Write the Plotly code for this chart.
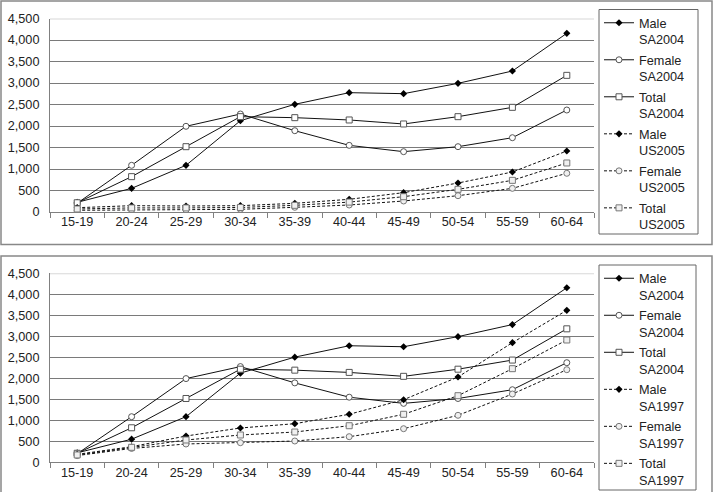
import plotly.graph_objects as go

ages = ["15-19", "20-24", "25-29", "30-34", "35-39", "40-44", "45-49", "50-54", "55-59", "60-64"]
male_sa2004 = [225, 550, 1086, 2123, 2504, 2775, 2752, 2992, 3279, 4155]
female_sa2004 = [205, 1086, 1993, 2279, 1891, 1550, 1403, 1519, 1728, 2372]
total_sa2004 = [215, 822, 1519, 2217, 2194, 2140, 2047, 2217, 2434, 3178]
male_us2005 = [100, 147, 140, 147, 202, 295, 450, 674, 930, 1419]
female_us2005 = [40, 47, 50, 62, 109, 163, 256, 379, 550, 900]
total_us2005 = [70, 95, 95, 105, 155, 230, 356, 527, 736, 1140]
male_sa1997 = [190, 371, 626, 817, 919, 1143, 1490, 2031, 2848, 3619]
female_sa1997 = [160, 330, 436, 467, 507, 610, 800, 1119, 1626, 2205]
total_sa1997 = [175, 357, 531, 650, 721, 871, 1143, 1586, 2229, 2912]
y_ticks = [0, 500, 1000, 1500, 2000, 2500, 3000, 3500, 4000, 4500]
y_ticklabels = ["0", "500", "1,000", "1,500", "2,000", "2,500", "3,000", "3,500", "4,000", "4,500"]

W, H = 717, 492
FONT = "Liberation Sans, Arial, sans-serif"
FS = 12.7
TXT = "#222222"

def px_x(p):
    return p / W

def px_y(p):
    return 1 - p / H

fig = go.Figure()

def style(kind, dashed):
    line = dict(color="#111111", width=1, dash="3px,2px" if dashed else "solid")
    edge = "#777777" if dashed else "#555555"
    fill = "#f0f0f0" if dashed else "#ffffff"
    if kind == "male":
        marker = dict(symbol="diamond", size=5.5, color="#000000", line=dict(width=0))
    elif kind == "female":
        marker = dict(symbol="circle", size=6, color=fill, line=dict(color=edge, width=1))
    else:
        marker = dict(symbol="square", size=6, color=fill, line=dict(color=edge, width=1))
    return line, marker

panels = [
    ("x", "y", "legend", [
        ("Male<br>SA2004", male_sa2004, "male", False),
        ("Female<br>SA2004", female_sa2004, "female", False),
        ("Total<br>SA2004", total_sa2004, "total", False),
        ("Male<br>US2005", male_us2005, "male", True),
        ("Female<br>US2005", female_us2005, "female", True),
        ("Total<br>US2005", total_us2005, "total", True),
    ]),
    ("x2", "y2", "legend2", [
        ("Male<br>SA2004", male_sa2004, "male", False),
        ("Female<br>SA2004", female_sa2004, "female", False),
        ("Total<br>SA2004", total_sa2004, "total", False),
        ("Male<br>SA1997", male_sa1997, "male", True),
        ("Female<br>SA1997", female_sa1997, "female", True),
        ("Total<br>SA1997", total_sa1997, "total", True),
    ]),
]

for xa, ya, lg, series in panels:
    for i, (name, vals, kind, dashed) in enumerate(series):
        line, marker = style(kind, dashed)
        fig.add_trace(go.Scatter(
            x=ages, y=vals, name=name, mode="lines+markers",
            line=line, marker=marker, xaxis=xa, yaxis=ya,
            legend=lg, legendgroup=lg + str(i),
        ))

axis_common_x = dict(
    type="category", categoryorder="array", categoryarray=ages,
    range=[-0.5, 9.5], showgrid=False, showline=True, linecolor="#808080", linewidth=1,
    ticks="outside", tickson="boundaries", ticklen=5, tickcolor="#808080",
    tickfont=dict(family=FONT, size=FS, color=TXT), zeroline=False, fixedrange=True,
    automargin=False, ticklabelstandoff=-2,
)
axis_common_y = dict(
    range=[0, 4500], tickvals=y_ticks, ticktext=y_ticklabels,
    showgrid=True, gridcolor="#7a7a7a", gridwidth=1, showline=True, linecolor="#808080",
    linewidth=1, ticks="", zeroline=False,
    tickfont=dict(family=FONT, size=FS, color=TXT), fixedrange=True,
    automargin=False, ticklabelstandoff=7,
)

x0, x1 = px_x(50), px_x(594)
leg_common = dict(xanchor="left", yanchor="top", valign="top",
                  borderwidth=0, bgcolor="rgba(0,0,0,0)",
                  font=dict(family=FONT, size=FS, color=TXT), tracegroupgap=1,
                  itemwidth=30)
fig.update_layout(
    width=W, height=H, margin=dict(l=0, r=0, t=0, b=0, autoexpand=False),
    paper_bgcolor="white", plot_bgcolor="white",
    xaxis=dict(axis_common_x, domain=[x0, x1], anchor="y"),
    yaxis=dict(axis_common_y, domain=[px_y(212), px_y(18.5)], anchor="x"),
    xaxis2=dict(axis_common_x, domain=[x0, x1], anchor="y2"),
    yaxis2=dict(axis_common_y, domain=[px_y(462.3), px_y(273.3)], anchor="x2"),
    legend=dict(leg_common, x=px_x(599), y=px_y(8)),
    legend2=dict(leg_common, x=px_x(599), y=px_y(263.5)),
    showlegend=True,
    font=dict(family=FONT, size=FS, color=TXT),
)

shapes = [
    dict(type="rect", xref="paper", yref="paper", x0=px_x(1), x1=px_x(712), y0=px_y(244.5), y1=px_y(1),
         line=dict(color="#888888", width=1.5), layer="below"),
    dict(type="rect", xref="paper", yref="paper", x0=px_x(1), x1=px_x(712), y0=px_y(494), y1=px_y(256),
         line=dict(color="#888888", width=1.5), layer="below"),
    dict(type="rect", xref="paper", yref="paper", x0=px_x(599), x1=px_x(698), y0=px_y(234), y1=px_y(9.5),
         line=dict(color="#666666", width=1), layer="below"),
    dict(type="rect", xref="paper", yref="paper", x0=px_x(599), x1=px_x(696), y0=px_y(490), y1=px_y(265),
         line=dict(color="#666666", width=1), layer="below"),
    dict(type="line", xref="x domain", yref="y", x0=0, x1=1, y0=4500, y1=4500,
         line=dict(color="#d8d8d8", width=2), layer="above"),
    dict(type="line", xref="x2 domain", yref="y2", x0=0, x1=1, y0=4500, y1=4500,
         line=dict(color="#d8d8d8", width=2), layer="above"),
]
fig.update_layout(shapes=shapes)

fig.write_html("out.html")
